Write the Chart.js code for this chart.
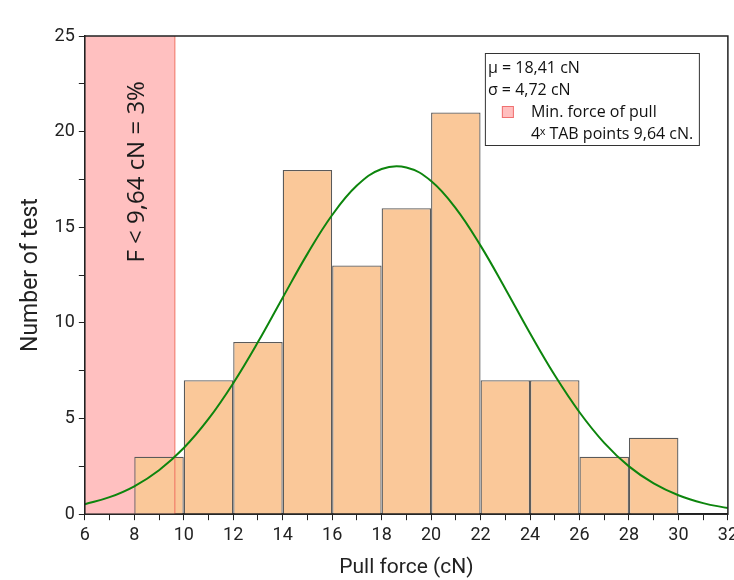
<!DOCTYPE html>
<html>
<head>
<meta charset="utf-8">
<script src="https://cdn.jsdelivr.net/npm/chart.js@4/dist/chart.umd.min.js"></script>
<style>
  html, body { margin: 0; padding: 0; background: #fff; overflow: hidden; }
  #wrap { width: 742px; height: 580px; }
</style>
</head>
<body>
<div id="wrap"><canvas id="chart"></canvas></div>
<script>
// histogram bins (width 2 cN)
const binCenters = [9, 11, 13, 15, 17, 19, 21, 23, 25, 27, 29];
const binCounts = [3, 7, 9, 18, 13, 16, 21, 7, 7, 3, 4];

// fitted normal curve
const curveX = [6, 7, 8, 9, 10, 11, 12, 13, 14, 15, 16, 17, 18, 19, 20, 21, 22, 23, 24, 25, 26, 27, 28, 29, 30, 31, 32];
const curveY = [0.52, 0.89, 1.46, 2.3, 3.46, 4.98, 6.85, 9.0, 11.32, 13.61, 15.64, 17.18, 18.05, 18.13, 17.42, 15.99, 14.04, 11.79, 9.46, 7.26, 5.33, 3.73, 2.5, 1.61, 0.99, 0.58, 0.32];

// region below the minimum pull force
const limitX = [6, 9.64];
const limitTop = [25, 25];
const limitLineX = [9.64, 9.64];
const limitLineY = [0, 25];

const legendLines = ["\u03bc = 18,41 cN", "\u03c3 = 4,72 cN", "Min. force of pull", "4\u02e3 TAB points 9,64 cN."];
const regionLabel = "F < 9,64 cN = 3%";

const tickFont = { family: "Roboto, sans-serif", size: 18 };
const titleFont = { family: "Roboto, sans-serif", size: 21 };

const extras = {
  id: "extras",
  afterDatasetsDraw(chart) {
    const { ctx, chartArea: a, scales } = chart;
    ctx.save();
    ctx.strokeStyle = "#222";
    ctx.lineWidth = 1.5;
    ctx.strokeRect(a.left, a.top, a.right - a.left, a.bottom - a.top);

    // rotated label in the pink region
    const cx = scales.x.getPixelForValue(8.1);
    const cy = scales.y.getPixelForValue(17.9);
    ctx.translate(cx, cy);
    ctx.rotate(-Math.PI / 2);
    ctx.fillStyle = "#1a1a1a";
    ctx.font = "24px 'Open Sans', sans-serif";
    ctx.textAlign = "center";
    ctx.textBaseline = "middle";
    ctx.fillText(regionLabel, 0, 0);
    ctx.restore();

    // legend box
    const bx = a.right - 243, by = a.top + 17, bw = 214, bh = 92;
    ctx.save();
    ctx.fillStyle = "#fff";
    ctx.fillRect(bx, by, bw, bh);
    ctx.strokeStyle = "#333";
    ctx.lineWidth = 1;
    ctx.strokeRect(bx + 0.5, by + 0.5, bw, bh);
    ctx.fillStyle = "#111";
    ctx.font = "16px 'Open Sans', sans-serif";
    ctx.textBaseline = "middle";
    ctx.fillText(legendLines[0], bx + 3, by + 15);
    ctx.fillText(legendLines[1], bx + 3, by + 37);
    ctx.fillText(legendLines[2], bx + 46, by + 59);
    ctx.fillText(legendLines[3], bx + 46, by + 81);
    ctx.fillStyle = "#ffbfbf";
    ctx.strokeStyle = "#f07070";
    ctx.fillRect(bx + 17, by + 53, 12, 12);
    ctx.strokeRect(bx + 17.5, by + 53.5, 11, 11);
    ctx.restore();
  }
};

new Chart(document.getElementById("chart"), {
  type: "bar",
  data: {
    datasets: [
      {
        type: "line",
        data: limitX.map((x, i) => ({ x, y: limitTop[i] })),
        fill: "origin",
        backgroundColor: "#ffc0c0",
        borderWidth: 0,
        pointRadius: 0,
        order: 4,
      },
      {
        type: "bar",
        data: binCenters.map((x, i) => ({ x, y: binCounts[i] })),
        backgroundColor: "#fac899",
        borderColor: "#5a5a5a",
        borderWidth: 1.3,
        // ruler uses the 1 cN tick spacing, so 2 x 1 = full bin width
        barPercentage: 2,
        categoryPercentage: 1,
        order: 3,
      },
      {
        type: "line",
        data: limitLineX.map((x, i) => ({ x, y: limitLineY[i] })),
        borderColor: "#f07060",
        borderWidth: 1,
        pointRadius: 0,
        fill: false,
        order: 2,
      },
      {
        type: "line",
        data: curveX.map((x, i) => ({ x, y: curveY[i] })),
        borderColor: "#0d850d",
        borderWidth: 2,
        pointRadius: 0,
        tension: 0.4,
        fill: false,
        order: 1,
      },
    ],
  },
  options: {
    responsive: true,
    maintainAspectRatio: false,
    animation: false,
    layout: { padding: { top: 36, right: 0, bottom: 0, left: 13 } },
    plugins: { legend: { display: false }, tooltip: { enabled: false } },
    scales: {
      x: {
        type: "linear",
        min: 6,
        max: 32,
        offset: false,
        grid: { offset: false, drawOnChartArea: false, tickLength: 6, color: "#222" },
        border: { color: "#222", width: 1.5 },
        ticks: {
          stepSize: 1,
          autoSkip: false,
          maxRotation: 0,
          color: "#222",
          font: tickFont,
          padding: 4,
          callback: (v) => (v % 2 === 0 ? String(v) : ""),
        },
        title: { display: true, text: "Pull force (cN)", color: "#222", font: titleFont, padding: { top: 5, bottom: 0 } },
      },
      y: {
        min: 0,
        max: 25,
        grid: { drawOnChartArea: false, tickLength: 6, color: "#222" },
        border: { color: "#222", width: 1.5 },
        ticks: {
          stepSize: 2.5,
          autoSkip: false,
          color: "#222",
          font: tickFont,
          padding: 4,
          callback: (v) => (v % 5 === 0 ? String(v) : ""),
        },
        title: { display: true, text: "Number of test", color: "#222", font: { family: "Roboto, sans-serif", size: 23 }, padding: { bottom: 6 } },
      },
    },
  },
  plugins: [extras],
});
</script>
</body>
</html>
